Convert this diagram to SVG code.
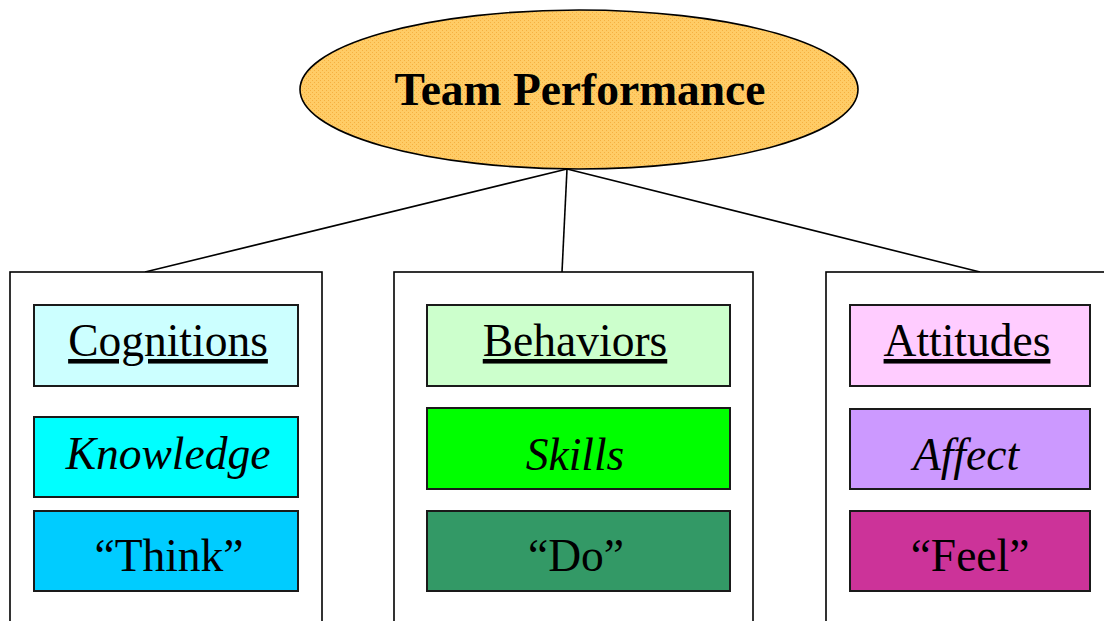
<svg xmlns="http://www.w3.org/2000/svg" width="1104" height="621" viewBox="0 0 1104 621">
<style>
.outer{fill:#fff;stroke:#000;stroke-width:1.6}
.inner{stroke:#1a1a1a;stroke-width:2}
.t{font-family:"Liberation Serif","Times New Roman",serif;font-size:45.5px;fill:#000;text-anchor:middle}
.u{text-decoration:underline}
.i{font-style:italic}
.conn{stroke:#000;stroke-width:1.6;fill:none}
</style>
<defs>
<pattern id="dots" width="4" height="4" patternUnits="userSpaceOnUse">
<rect width="4" height="4" fill="#FFCC66"/>
<rect x="0" y="0" width="1" height="1" fill="#F5B040"/>
<rect x="2" y="2" width="1" height="1" fill="#F5B040"/>
</pattern>
</defs>
<rect width="1104" height="621" fill="#fff"/>
<g id="connectors">
<line class="conn" x1="567" y1="169" x2="145" y2="272"/>
<line class="conn" x1="567" y1="169" x2="562" y2="272"/>
<line class="conn" x1="567" y1="169" x2="980" y2="272"/>
</g>
<g id="team-performance">
<ellipse cx="579" cy="89.5" rx="279" ry="79.5" fill="url(#dots)" stroke="#000" stroke-width="1.6"/>
<text class="t" x="580" y="105" font-weight="bold">Team Performance</text>
</g>
<g id="cognitions-column">
<rect class="outer" x="10" y="272" width="312" height="370"/>
</g>
<g id="cognitions">
<rect class="inner" x="34" y="305" width="264" height="81" fill="#CCFFFF"/>
<text class="t u" x="168" y="356">Cognitions</text>
</g>
<g id="knowledge">
<rect class="inner" x="34" y="417" width="264" height="80" fill="#00FFFF"/>
<text class="t i" x="168" y="469">Knowledge</text>
</g>
<g id="think">
<rect class="inner" x="34" y="511" width="264" height="80" fill="#00CCFF"/>
<text class="t" x="169" y="571">“Think”</text>
</g>
<g id="behaviors-column">
<rect class="outer" x="394" y="272" width="359" height="370"/>
</g>
<g id="behaviors">
<rect class="inner" x="427" y="305" width="303" height="81" fill="#CCFFCC"/>
<text class="t u" x="575" y="356">Behaviors</text>
</g>
<g id="skills">
<rect class="inner" x="427" y="408" width="303" height="81" fill="#00FF00"/>
<text class="t i" x="575" y="470">Skills</text>
</g>
<g id="do">
<rect class="inner" x="427" y="511" width="303" height="80" fill="#339966"/>
<text class="t" x="576" y="571">“Do”</text>
</g>
<g id="attitudes-column">
<rect class="outer" x="826" y="272" width="300" height="370"/>
</g>
<g id="attitudes">
<rect class="inner" x="850" y="305" width="240" height="81" fill="#FFCCFF"/>
<text class="t u" x="967" y="356">Attitudes</text>
</g>
<g id="affect">
<rect class="inner" x="850" y="409" width="240" height="80" fill="#CC99FF"/>
<text class="t i" x="966" y="470">Affect</text>
</g>
<g id="feel">
<rect class="inner" x="850" y="511" width="240" height="80" fill="#CC3399"/>
<text class="t" x="970" y="571">“Feel”</text>
</g>
</svg>
